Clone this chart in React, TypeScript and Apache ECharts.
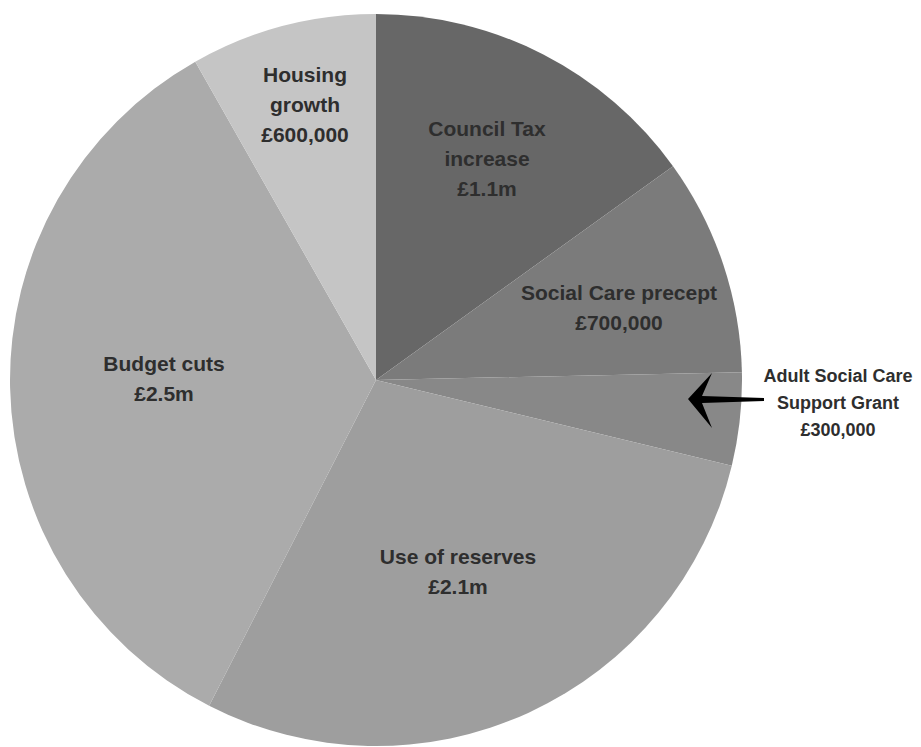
import React, { useEffect, useRef } from "react";
import * as echarts from "echarts";

const categories = [
  "Council Tax increase",
  "Social Care precept",
  "Adult Social Care Support Grant",
  "Use of reserves",
  "Budget cuts",
  "Housing growth",
];
const values = [1.1, 0.7, 0.3, 2.1, 2.5, 0.6];
const labelTexts = [
  "Council Tax\nincrease\n£1.1m",
  "Social Care precept\n£700,000",
  "Adult Social Care\nSupport Grant\n£300,000",
  "Use of reserves\n£2.1m",
  "Budget cuts\n£2.5m",
  "Housing\ngrowth\n£600,000",
];
const colors = ["#676767", "#7b7b7b", "#888888", "#9e9e9e", "#ababab", "#c5c5c5"];
// label anchor (center-x, top-y of first line), font size, line height
const labelLayout = [
  { x: 487, y: 113, size: 21, lh: 30 },
  { x: 619, y: 277, size: 21, lh: 30 },
  { x: 838, y: 362, size: 18, lh: 27 },
  { x: 458, y: 541, size: 21, lh: 30 },
  { x: 164, y: 348, size: 21, lh: 30 },
  { x: 305, y: 59, size: 21, lh: 30 },
];

export default function App() {
  const ref = useRef<HTMLDivElement>(null);
  useEffect(() => {
    if (!ref.current) return;
    const chart = echarts.init(ref.current, undefined, { renderer: "svg" });
    const graphics: any[] = labelTexts.map((t, i) => ({
      type: "text",
      x: labelLayout[i].x,
      y: labelLayout[i].y,
      z: 10,
      style: {
        text: t,
        fill: "#2e2e2e",
        font: `bold ${labelLayout[i].size}px "Liberation Sans", Arial, sans-serif`,
        textAlign: "center",
        textVerticalAlign: "top",
        lineHeight: labelLayout[i].lh,
      },
    }));
    graphics.push({
      type: "polygon",
      z: 10,
      shape: {
        points: [
          [688, 399],
          [712, 373],
          [702, 396],
          [764, 398],
          [764, 401],
          [702, 403],
          [712, 428],
        ],
      },
      style: { fill: "#000" },
    });
    chart.setOption({
      animation: false,
      backgroundColor: "#ffffff",
      graphic: graphics,
      series: [
        {
          type: "pie",
          center: [376, 380],
          radius: 366,
          startAngle: 90,
          clockwise: true,
          label: { show: false },
          labelLine: { show: false },
          itemStyle: { borderWidth: 0 },
          emphasis: { disabled: true },
          data: categories.map((c, i) => ({
            name: c,
            value: values[i],
            itemStyle: { color: colors[i] },
          })),
        },
      ],
    });
    return () => chart.dispose();
  }, []);
  return (
    <div
      ref={ref}
      style={{ position: "fixed", left: 0, top: 0, width: 921, height: 747 }}
    />
  );
}
